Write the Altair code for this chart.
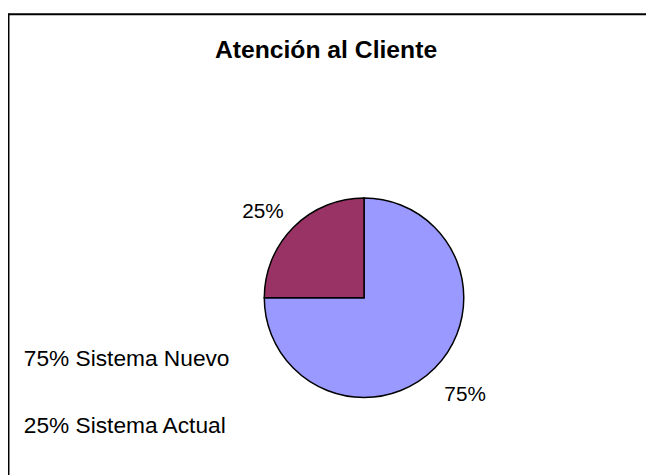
import altair as alt
import pandas as pd

title_text = ["Atención al Cliente"]
categories = ["Sistema Nuevo", "Sistema Actual"]
values = [75, 25]
colors = ["#9999FF", "#993366"]

df = pd.DataFrame({
    "category": categories,
    "value": values,
    "order": list(range(len(categories))),
    "label": [f"{v}%" for v in values],
    "legend": [f"{v}% {c}" for v, c in zip(values, categories)],
})
tdf = pd.DataFrame({"t": title_text})

FONT = "Liberation Sans"
CX, CY = 360.5, 290.5

theta = alt.Theta("value:Q", stack=True)
order = alt.Order("order:Q")

arc = alt.Chart(df).mark_arc(stroke="black", strokeWidth=1.5, radius=101).encode(
    theta=theta,
    order=order,
    color=alt.Color("category:N", scale=alt.Scale(domain=categories, range=colors), legend=None),
    x=alt.value(CX),
    y=alt.value(CY),
)

pie_labels = alt.Chart(df).mark_text(
    radius=138, thetaOffset=-0.05, dy=6, font=FONT, fontSize=21, color="black", baseline="middle"
).encode(
    theta=theta,
    order=order,
    text="label:N",
    x=alt.value(CX),
    y=alt.value(CY),
)

legend_text = alt.Chart(df).mark_text(align="left", baseline="alphabetic", font=FONT, fontSize=23, color="black").encode(
    x=alt.value(16),
    y=alt.Y("category:N", scale=alt.Scale(type="point", domain=categories, range=[360, 427], padding=0), axis=None),
    text="legend:N",
)

title = alt.Chart(tdf).mark_text(align="center", baseline="alphabetic", font=FONT, fontSize=25, fontWeight="bold", color="black").encode(
    x=alt.value(322),
    y=alt.value(48),
    text="t:N",
)

vline = alt.Chart(tdf).mark_rule(color="black", strokeWidth=2).encode(
    x=alt.value(0.5), y=alt.value(3), y2=alt.value(480)
)
hline = alt.Chart(tdf).mark_rule(color="black", strokeWidth=2).encode(
    x=alt.value(0), x2=alt.value(660), y=alt.value(3.5)
)

chart = alt.layer(vline, hline, title, arc, pie_labels, legend_text).resolve_scale(
    y="independent"
).properties(
    width=646, height=467, autosize=alt.AutoSizeParams(type="none"), padding=0
).configure_view(stroke=None)

chart.save("out.html", embed_options={"renderer": "svg", "actions": False})
